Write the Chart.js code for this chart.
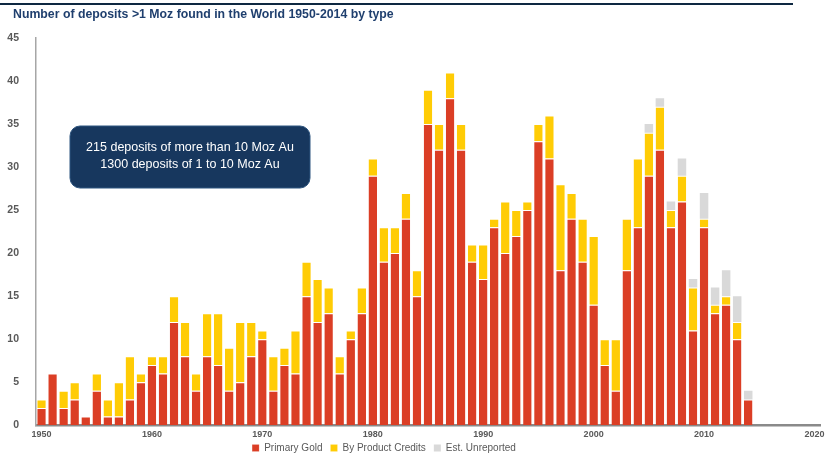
<!DOCTYPE html>
<html>
<head>
<meta charset="utf-8">
<title>Gold deposits by type</title>
<script src="https://cdn.jsdelivr.net/npm/chart.js@4"></script>
<style>
  html, body { margin: 0; padding: 0; background: #ffffff; }
  #wrap { width: 836px; height: 454px; position: relative; }
</style>
</head>
<body>
<div id="wrap"><canvas id="chart"></canvas></div>
<script>
// Category axis: discovery years, the axis runs on to 2020
const years = [
  '1950','1951','1952','1953','1954','1955','1956','1957','1958','1959',
  '1960','1961','1962','1963','1964','1965','1966','1967','1968','1969',
  '1970','1971','1972','1973','1974','1975','1976','1977','1978','1979',
  '1980','1981','1982','1983','1984','1985','1986','1987','1988','1989',
  '1990','1991','1992','1993','1994','1995','1996','1997','1998','1999',
  '2000','2001','2002','2003','2004','2005','2006','2007','2008','2009',
  '2010','2011','2012','2013','2014','2015','2016','2017','2018','2019',
  '2020'
];

// Number of deposits >1 Moz found each year, 1950-2014
const primaryGold = [
  2, 6, 2, 3, 1, 4, 1, 1, 3, 5,
  7, 6, 12, 8, 4, 8, 7, 4, 5, 8,
  10, 4, 7, 6, 15, 12, 13, 6, 10, 13,
  29, 19, 20, 24, 15, 35, 32, 38, 32, 19,
  17, 23, 20, 22, 25, 33, 31, 18, 24, 19,
  14, 7, 4, 18, 23, 29, 32, 23, 26, 11,
  23, 13, 14, 10, 3
];
const byProductCredits = [
  1, 0, 2, 2, 0, 2, 2, 4, 5, 1,
  1, 2, 3, 4, 2, 5, 6, 5, 7, 4,
  1, 4, 2, 5, 4, 5, 3, 2, 1, 3,
  2, 4, 3, 3, 3, 4, 3, 3, 3, 2,
  4, 1, 6, 3, 1, 2, 5, 10, 3, 5,
  8, 3, 6, 6, 8, 5, 5, 2, 3, 5,
  1, 1, 1, 2, 0
];
const estUnreported = [
  0, 0, 0, 0, 0, 0, 0, 0, 0, 0,
  0, 0, 0, 0, 0, 0, 0, 0, 0, 0,
  0, 0, 0, 0, 0, 0, 0, 0, 0, 0,
  0, 0, 0, 0, 0, 0, 0, 0, 0, 0,
  0, 0, 0, 0, 0, 0, 0, 0, 0, 0,
  0, 0, 0, 0, 0, 1, 1, 1, 2, 1,
  3, 2, 3, 3, 1
];

const seriesNames = ['Primary Gold', 'By Product Credits', 'Est. Unreported'];
const titleText = 'Number of deposits >1 Moz found in the World 1950-2014 by type';
const noteLines = ['215 deposits of more than 10 Moz Au', '1300 deposits of 1 to 10 Moz Au'];

const FONT = "'Liberation Sans', Arial, sans-serif";
const NAVY = '#17375e';
const GREY_TEXT = '#595959';

// Heading, top rule and the summary box
const decorations = {
  id: 'decorations',
  afterLayout(chart) {
    // tuck the legend in just under the axis labels, a little left of centre
    const lg = chart.legend;
    if (lg) {
      lg.left -= 26; lg.right -= 26;
      lg.top -= 9; lg.bottom -= 9;
    }
  },
  beforeDraw(chart) {
    const ctx = chart.ctx;
    ctx.save();
    ctx.fillStyle = '#ffffff';
    ctx.fillRect(0, 0, chart.width, chart.height);
    ctx.strokeStyle = '#0e2841';
    ctx.lineWidth = 2;
    ctx.beginPath();
    ctx.moveTo(0, 4);
    ctx.lineTo(793, 4);
    ctx.stroke();
    ctx.fillStyle = '#1f3f6e';
    ctx.font = 'bold 12.3px ' + FONT;
    ctx.textBaseline = 'middle';
    ctx.textAlign = 'left';
    ctx.fillText(titleText, 13, 15);
    ctx.restore();
  },
  afterDatasetsDraw(chart) {
    const ctx = chart.ctx;
    const area = chart.chartArea;
    const x = area.left + 34, y = 126, w = 240, h = 62, r = 10;
    ctx.save();
    ctx.fillStyle = NAVY;
    ctx.strokeStyle = '#2f5680';
    ctx.lineWidth = 1;
    ctx.beginPath();
    ctx.roundRect(x, y, w, h, r);
    ctx.fill();
    ctx.stroke();
    ctx.fillStyle = '#ffffff';
    ctx.font = '12.5px ' + FONT;
    ctx.textAlign = 'center';
    ctx.textBaseline = 'middle';
    ctx.fillText(noteLines[0], x + w / 2, y + 22);
    ctx.fillText(noteLines[1], x + w / 2, y + 39);
    ctx.restore();
  }
};

const sepBorder = { top: 1, left: 0, right: 0, bottom: 0 };

new Chart(document.getElementById('chart'), {
  type: 'bar',
  data: {
    labels: years,
    datasets: [
      { label: seriesNames[0], data: primaryGold, backgroundColor: '#db3e25',
        borderColor: 'rgba(255,255,255,0.55)', borderWidth: sepBorder },
      { label: seriesNames[1], data: byProductCredits, backgroundColor: '#ffcc05',
        borderColor: 'rgba(255,255,255,0.55)', borderWidth: sepBorder },
      { label: seriesNames[2], data: estUnreported, backgroundColor: '#d9d9d9' }
    ]
  },
  options: {
    responsive: true,
    maintainAspectRatio: false,
    animation: false,
    devicePixelRatio: 1,
    layout: { padding: { top: 38, right: 16, bottom: -18, left: 0 } },
    datasets: { bar: { categoryPercentage: 1.0, barPercentage: 0.77 } },
    scales: {
      x: {
        stacked: true,
        offset: true,
        grid: { display: false, drawTicks: false },
        border: { display: true, color: '#8a8a8a', width: 2.5 },
        ticks: {
          autoSkip: false,
          maxRotation: 0,
          padding: 4,
          color: GREY_TEXT,
          font: { family: FONT, size: 9, weight: 'bold' },
          callback: function (value) {
            const label = this.getLabelForValue(value);
            return Number(label) % 10 === 0 ? label : '';
          }
        }
      },
      y: {
        stacked: true,
        min: 0,
        max: 45,
        grid: { display: false, drawTicks: false },
        border: { display: true, color: '#a6a6a6', width: 1.5 },
        afterFit(scale) { scale.width = 36; },
        ticks: {
          stepSize: 5,
          padding: 17,
          color: GREY_TEXT,
          font: { family: FONT, size: 10.5, weight: 'bold' }
        }
      }
    },
    plugins: {
      legend: {
        position: 'bottom',
        labels: {
          boxWidth: 7,
          boxHeight: 7,
          padding: 8,
          color: GREY_TEXT,
          font: { family: FONT, size: 10 }
        }
      },
      title: { display: false },
      tooltip: { enabled: false }
    }
  },
  plugins: [decorations]
});
</script>
</body>
</html>
